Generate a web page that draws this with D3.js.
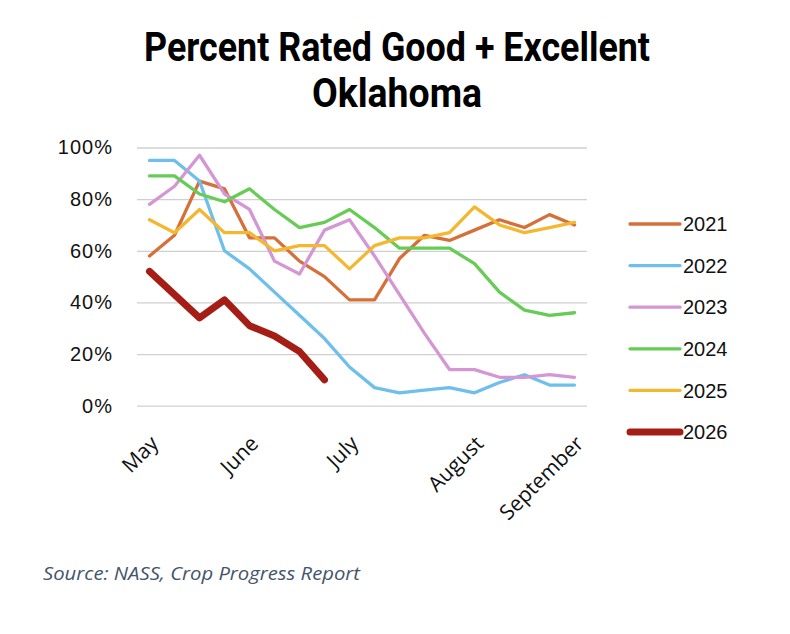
<!DOCTYPE html>
<html lang="en">
<head>
  <meta charset="UTF-8">
  <title>Percent Rated Good + Excellent - Oklahoma</title>
  <script src="https://d3js.org/d3.v7.min.js"></script>
  <style>
    body {
      margin: 0;
      background: #fff;
    }
  </style>
</head>
<body>
  <div id="chart"></div>
  <script>
    // weekly ratings, % good + excellent
    const weeks = d3.range(18);
    const monthLabels = { 0: "May", 4: "June", 8: "July", 13: "August", 17: "September" };
    const years = ["2021", "2022", "2023", "2024", "2025", "2026"];
    const colors = ["#D6703A", "#6FBFEC", "#D497D4", "#66CC55", "#F4B730", "#A51E16"];
    const y2021 = [58, 66, 87, 84, 65, 65, 56, 50, 41, 41, 57, 66, 64, 68, 72, 69, 74, 70];
    const y2022 = [95, 95, 87, 60, 53, 44, 35, 26, 15, 7, 5, 6, 7, 5, 9, 12, 8, 8];
    const y2023 = [78, 85, 97, 82, 76, 56, 51, 68, 72, 58, 43, 28, 14, 14, 11, 11, 12, 11];
    const y2024 = [89, 89, 82, 79, 84, 76, 69, 71, 76, 69, 61, 61, 61, 55, 44, 37, 35, 36];
    const y2025 = [72, 67, 76, 67, 67, 60, 62, 62, 53, 62, 65, 65, 67, 77, 70, 67, 69, 71];
    const y2026 = [52, 43, 34, 41, 31, 27, 21, 10];
    const yTicks = [0, 20, 40, 60, 80, 100];

    const series = years.map((yr, i) => ({
      year: yr,
      color: colors[i],
      values: [y2021, y2022, y2023, y2024, y2025, y2026][i],
      width: yr === "2026" ? 7 : 3.3
    }));

    const W = 790, H = 634;
    const plot = { left: 137, right: 587, top: 147.5, bottom: 405.7 };

    const svg = d3.select("#chart")
      .append("svg")
      .attr("width", W)
      .attr("height", H);

    // title
    const title = svg.append("g")
      .attr("font-family", "Roboto, sans-serif")
      .attr("font-weight", "bold")
      .attr("font-size", 40)
      .attr("text-anchor", "middle")
      .attr("fill", "#000");
    title.append("text")
      .attr("x", 397).attr("y", 61)
      .attr("textLength", 506).attr("lengthAdjust", "spacingAndGlyphs")
      .text("Percent Rated Good + Excellent");
    title.append("text")
      .attr("x", 397).attr("y", 107)
      .attr("textLength", 170).attr("lengthAdjust", "spacingAndGlyphs")
      .text("Oklahoma");

    const x = d3.scaleBand()
      .domain(weeks)
      .range([plot.left, plot.right])
      .padding(0);
    const xc = i => x(i) + x.bandwidth() / 2;

    const y = d3.scaleLinear()
      .domain([0, 100])
      .range([plot.bottom, plot.top]);

    // gridlines + y labels
    const yAxis = svg.append("g")
      .call(d3.axisLeft(y)
        .tickValues(yTicks)
        .tickSize(-(plot.right - plot.left))
        .tickPadding(24)
        .tickFormat(d => d + "%"))
      .attr("transform", `translate(${plot.left},0)`);
    yAxis.select(".domain").remove();
    yAxis.selectAll(".tick line")
      .attr("stroke", "#d0d0d0")
      .attr("stroke-width", 1.3);
    yAxis.selectAll(".tick text")
      .attr("font-family", "'Liberation Sans', Arial, sans-serif")
      .attr("font-size", 20)
      .attr("letter-spacing", 1)
      .attr("fill", "#111");

    // month labels
    svg.append("g")
      .selectAll("text")
      .data(weeks.filter(i => monthLabels[i]))
      .join("text")
      .attr("transform", i => `translate(${xc(i) + 5},${plot.bottom + 34}) rotate(-45)`)
      .attr("text-anchor", "end")
      .attr("dy", "0.35em")
      .attr("font-family", "'Open Sans', sans-serif")
      .attr("font-size", 21)
      .attr("fill", "#111")
      .text(i => monthLabels[i]);

    const line = d3.line()
      .x((d, i) => xc(i))
      .y(d => y(d));

    svg.append("g")
      .selectAll("path")
      .data(series)
      .join("path")
      .attr("d", d => line(d.values))
      .attr("fill", "none")
      .attr("stroke", d => d.color)
      .attr("stroke-width", d => d.width)
      .attr("stroke-linejoin", "round")
      .attr("stroke-linecap", "round");

    // legend
    const legend = svg.append("g")
      .selectAll("g")
      .data(series)
      .join("g")
      .attr("transform", (d, i) => `translate(630,${224 + i * 41.6})`);
    legend.append("line")
      .attr("x1", 0).attr("x2", 50)
      .attr("stroke", d => d.color)
      .attr("stroke-width", d => d.width)
      .attr("stroke-linecap", "round");
    legend.append("text")
      .attr("x", 53)
      .attr("dy", "0.36em")
      .attr("font-family", "'Liberation Sans', Arial, sans-serif")
      .attr("font-size", 20)
      .attr("fill", "#111")
      .text(d => d.year);

    // source note
    svg.append("text")
      .attr("x", 43).attr("y", 580)
      .attr("font-family", "'Open Sans', sans-serif")
      .attr("font-style", "italic")
      .attr("font-size", 18)
      .attr("fill", "#44546A")
      .attr("textLength", 317).attr("lengthAdjust", "spacingAndGlyphs")
      .text("Source: NASS, Crop Progress Report");
  </script>
</body>
</html>
